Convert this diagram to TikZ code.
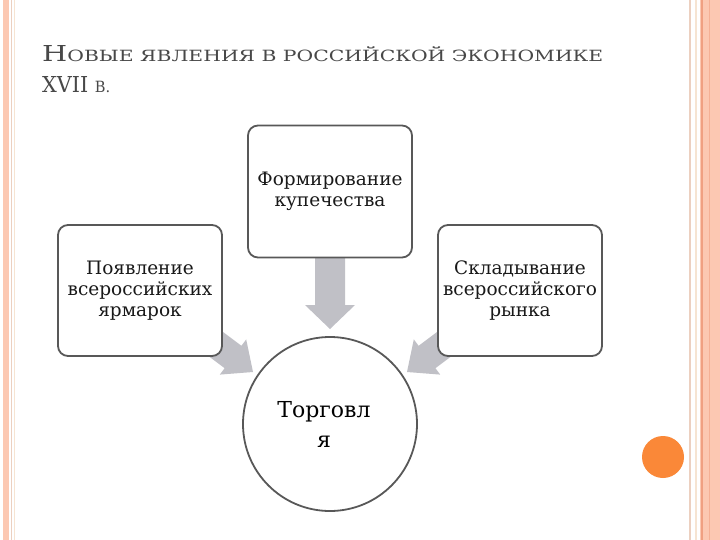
\documentclass[tikz,border=0pt]{standalone}
\usepackage{fontspec}
\usepackage{graphicx}
\setmainfont{DejaVu Serif}
\newfontfamily\titlefont{DejaVu Serif}
\definecolor{peach}{RGB}{252,200,178}
\definecolor{peachdark}{RGB}{240,160,130}
\definecolor{thinA}{RGB}{236,208,192}
\definecolor{thinB}{RGB}{246,228,210}
\definecolor{boxline}{RGB}{88,88,88}
\definecolor{arrowgray}{RGB}{192,192,198}
\definecolor{titlegray}{RGB}{72,72,72}
\definecolor{dotorange}{RGB}{250,136,56}
\newcommand{\scpart}[1]{{\fontsize{15.5}{15.5}\selectfont #1}}
\tikzset{
  roundbox/.style={draw=boxline, line width=1.8pt, fill=white, rounded corners=10pt,
    minimum width=164pt, minimum height=131pt, align=center, inner sep=0pt,
    font=\fontsize{18.5}{21}\selectfont, text=black!90},
  fatarrow/.style={fill=arrowgray, draw=none},
  titletext/.style={anchor=base west, inner sep=0pt, text=titlegray, font=\titlefont\fontsize{22}{22}\selectfont},
}
\begin{document}
\begin{tikzpicture}[x=1pt,y=-1pt]
\useasboundingbox (0,0) rectangle (720,540);
\fill[white] (0,0) rectangle (720,540);
% left border
\fill[peach] (3,0) rectangle (9,540);
\fill[thinA] (10.5,0) rectangle (11.5,540);
\fill[thinB] (13.5,0) rectangle (14.5,540);
% right border
\fill[thinA] (689,0) rectangle (691,540);
\fill[thinB] (695,0) rectangle (697,540);
\fill[peach] (700,0) rectangle (720,540);
\fill[peachdark] (701,0) rectangle (703,540);
\fill[peachdark!60!peach] (709,0) rectangle (710,540);
% orange dot
\fill[dotorange] (663,457) circle (21);
% title
\node[titletext] (t1) at (42,62)
  {\resizebox{561pt}{16pt}{Н\scpart{ОВЫЕ ЯВЛЕНИЯ В РОССИЙСКОЙ ЭКОНОМИКЕ}}};
\node[titletext] (t2) at (42,93)
  {\resizebox{68pt}{16pt}{XVII \scpart{В.}}};
% arrows (under boxes)
\fill[fatarrow] (315,240) -- (345,240) -- (345,305) -- (355,305) -- (330,329) -- (305,305) -- (315,305) -- cycle;
\fill[fatarrow] (160.6,320.2) -- (224.6,368.2) -- (219.8,374.6) -- (253,372) -- (246.2,339.4) -- (241.4,345.8) -- (177.4,297.8) -- cycle;
\fill[fatarrow] (499.4,320.2) -- (435.4,368.2) -- (440.2,374.6) -- (407,372) -- (413.8,339.4) -- (418.6,345.8) -- (482.6,297.8) -- cycle;
% boxes
\node[roundbox, minimum height=132pt] (top) at (330,191.5) {Формирование\\купечества};
\node[roundbox] (left) at (140,290.5) {Появление\\всероссийских\\ярмарок};
\node[roundbox] (right) at (520,290.5) {Складывание\\всероссийского\\рынка};
\node[circle, draw=boxline, line width=1.8pt, fill=white, minimum size=174pt, inner sep=0pt] (trade) at (330,424) {};
\node[align=center, inner sep=0pt, font=\fontsize{22}{30}\selectfont, text=black] (tradetext) at (324,424) {Торговл\\я};
\end{tikzpicture}
\end{document}
